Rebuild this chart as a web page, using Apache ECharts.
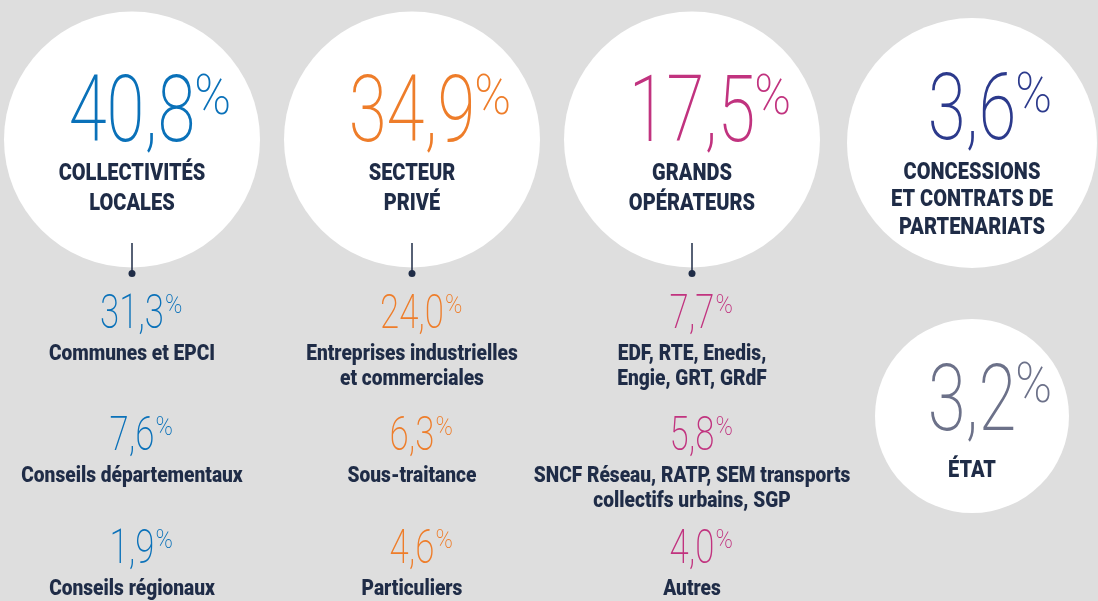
<!DOCTYPE html>
<html>
<head>
<meta charset="utf-8">
<script src="https://cdn.jsdelivr.net/npm/echarts@6/dist/echarts.min.js"></script>
<style>
  html, body { margin: 0; background: #dedede; }
  #chart { width: 1098px; height: 601px; }
</style>
</head>
<body>
<div id="chart"></div>
<script>
// data
const columns = ['Collectivités locales', 'Secteur privé', 'Grands opérateurs', 'Concessions / État']
const groupLabels = [
  ['COLLECTIVITÉS', 'LOCALES'],
  ['SECTEUR', 'PRIVÉ'],
  ['GRANDS', 'OPÉRATEURS'],
  ['CONCESSIONS', 'ET CONTRATS DE', 'PARTENARIATS'],
  ['ÉTAT']
]
const groupShares = [40.8, 34.9, 17.5, 3.6, 3.2]
const groupColumn = [0, 1, 2, 3, 3]
const subLabels = [
  [['Communes et EPCI'], ['Conseils départementaux'], ['Conseils régionaux']],
  [['Entreprises industrielles', 'et commerciales'], ['Sous-traitance'], ['Particuliers']],
  [['EDF, RTE, Enedis,', 'Engie, GRT, GRdF'], ['SNCF Réseau, RATP, SEM transports', 'collectifs urbains, SGP'], ['Autres']]
]
const subShares = [
  [31.3, 7.6, 1.9],
  [24.0, 6.3, 4.6],
  [7.7, 5.8, 4.0]
]

// layout (y in page pixels, x from the category axis)
const circleY = [139.5, 139.5, 139.5, 143, 416]
const circleR = [128, 128, 128, 125, 97]
const bigNumY = [118, 118, 118, 116, 406.5]
const bigLabelY = [174.5, 174.5, 174.5, 173, 471]
const bigLabelGap = [29.5, 29.5, 29.5, 27.5, 0]
const subRowY = [316, 438, 551]
const subLabelOffset = 38
const subLineGap = 25

const groupColors = ['#0a71b9', '#ee7d2a', '#c1337f', '#2c3a8c', '#6c7189']
const inkColor = '#1f2c47'
const NUM_FONT = 'Roboto'
const NUM_WEIGHT = 200
const LABEL_FONT = 'Roboto'
const LABEL_WEIGHT = 900

const measureCtx = document.createElement('canvas').getContext('2d')
function textWidth(str, size) {
  measureCtx.font = `${NUM_WEIGHT} ${size}px ${NUM_FONT}`
  return measureCtx.measureText(str).width
}

function fmt(v) {
  return v.toFixed(1).replace('.', ',')
}

function share(x, y, value, color, size, sx, pctSize, gap, pctDy) {
  const num = fmt(value)
  const w = textWidth(num, size) * sx
  return [
    {
      type: 'text', x, y, scaleX: sx,
      style: { text: num, fontFamily: NUM_FONT, fontWeight: NUM_WEIGHT, fontSize: size, fill: color, align: 'center', verticalAlign: 'middle' }
    },
    {
      type: 'text', x: x + w / 2 + gap, y: y + pctDy, scaleX: 0.9,
      style: { text: '%', fontFamily: NUM_FONT, fontWeight: NUM_WEIGHT, fontSize: pctSize, fill: color, align: 'left', verticalAlign: 'middle' }
    }
  ]
}

function label(x, y, text, size, sx) {
  return {
    type: 'text', x, y, scaleX: sx,
    style: { text, fontFamily: LABEL_FONT, fontWeight: LABEL_WEIGHT, fontSize: size, fill: inkColor, align: 'center', verticalAlign: 'middle' }
  }
}

function renderGroup(params, api) {
  const i = params.dataIndex
  const col = api.value(0)
  const [cx, cy] = api.coord([col, api.value(1)])
  const yOf = (v) => api.coord([col, v])[1]
  const children = [
    { type: 'circle', shape: { cx, cy, r: circleR[i] }, style: { fill: '#ffffff' } }
  ]
  children.push(...share(cx, yOf(bigNumY[i]), api.value(2), groupColors[i], 93, 0.74, 55, -1, -18))
  groupLabels[i].forEach((line, k) => {
    children.push(label(cx, yOf(bigLabelY[i] + k * bigLabelGap[i]), line, 23, 0.87))
  })
  if (i < 3) {
    children.push({
      type: 'line',
      shape: { x1: cx, y1: yOf(243), x2: cx, y2: yOf(271) },
      style: { stroke: inkColor, lineWidth: 1.5 }
    })
    children.push({ type: 'circle', shape: { cx, cy: yOf(273.5), r: 3.5 }, style: { fill: inkColor } })
  }
  return { type: 'group', children }
}

function renderSub(params, api) {
  const col = api.value(0)
  const row = api.value(3)
  const [x, y] = api.coord([col, api.value(1)])
  const yOf = (v) => api.coord([col, v])[1]
  const children = share(x, y, api.value(2), groupColors[col], 49, 0.71, 26, 1, -10)
  subLabels[col][row].forEach((line, k) => {
    children.push(label(x, yOf(subRowY[row] + subLabelOffset + k * subLineGap), line, 22, 0.87))
  })
  return { type: 'group', children }
}

const groupData = groupShares.map((v, i) => [groupColumn[i], circleY[i], v])
const subData = []
subShares.forEach((list, c) => {
  list.forEach((v, r) => subData.push([c, subRowY[r], v, r]))
})

const chart = echarts.init(document.getElementById('chart'))
chart.setOption({
  backgroundColor: '#dedede',
  animation: false,
  grid: { left: -8, width: 1120, top: 0, height: 601, outerBoundsMode: 'none', containLabel: false },
  xAxis: { type: 'category', data: columns, show: false },
  yAxis: { type: 'value', min: 0, max: 601, inverse: true, show: false },
  series: [
    { type: 'custom', name: 'groups', silent: true, data: groupData, renderItem: renderGroup },
    { type: 'custom', name: 'details', silent: true, data: subData, renderItem: renderSub }
  ]
})
</script>
</body>
</html>
